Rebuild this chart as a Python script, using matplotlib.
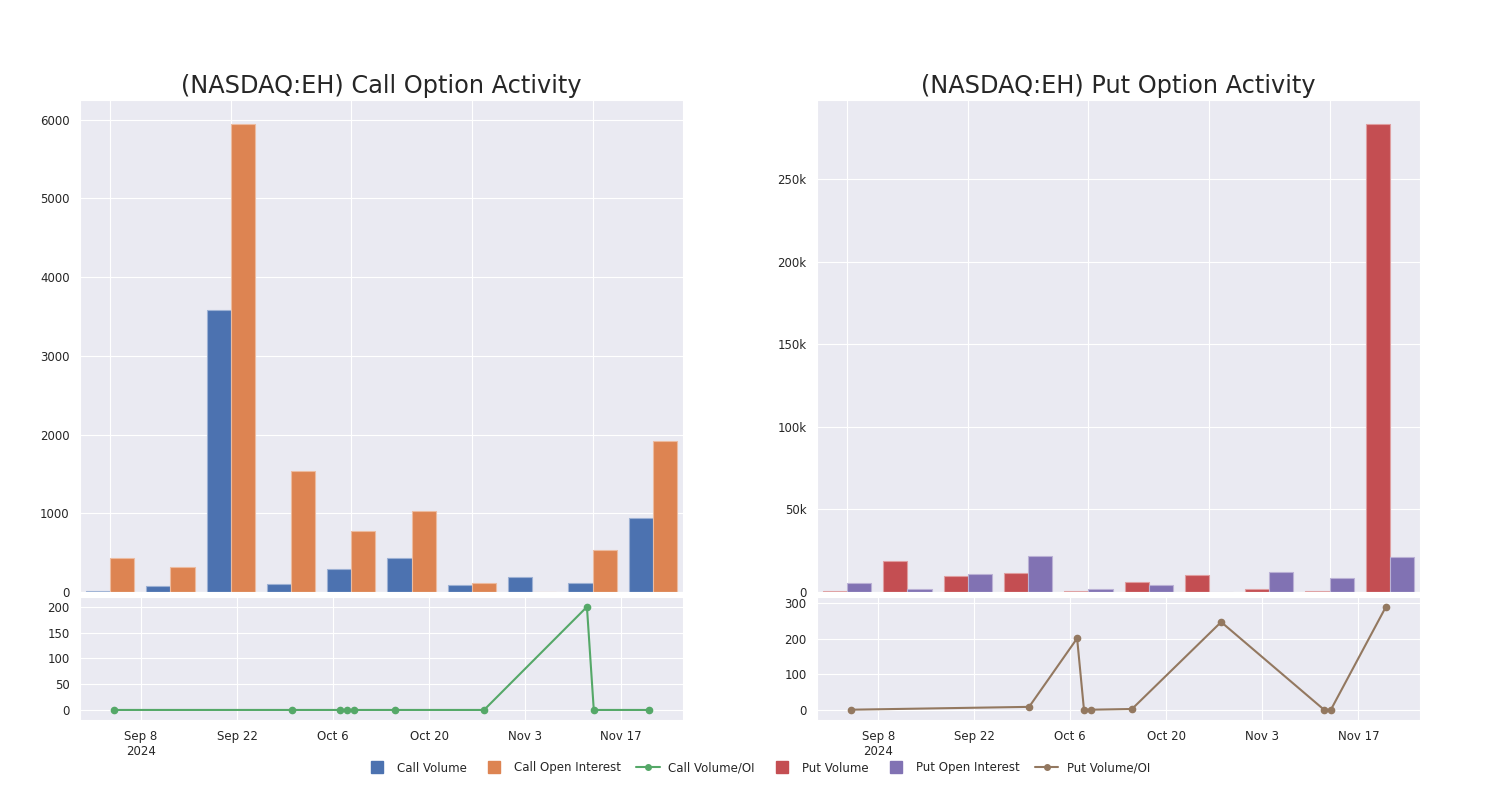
import numpy as np
import pandas as pd
import matplotlib
matplotlib.use("Agg")
import matplotlib.pyplot as plt
import matplotlib.colors as mcolors
from matplotlib.lines import Line2D
from matplotlib.ticker import FuncFormatter
import seaborn as sns

# bar groups (one per period)
call_volume = [10, 80, 3580, 100, 292, 436, 90, 192, 115, 935]
call_oi = [432, 316, 5950, 1535, 772, 1030, 115, 0, 530, 1920]
put_volume = [600, 18500, 9400, 11800, 800, 5900, 10000, 1600, 600, 283500]
put_oi = [5700, 1800, 11000, 21900, 1800, 4300, 200, 12100, 8700, 21100]

# volume / open interest ratio lines
ratio_dates = ["2024-09-04", "2024-09-30", "2024-10-07", "2024-10-08", "2024-10-09",
               "2024-10-15", "2024-10-28", "2024-11-12", "2024-11-13", "2024-11-21"]
call_ratio = [0, 0, 0, 0, 0, 0, 0, 200, 0, 0]
put_ratio = [0, 8, 201, 0, 0, 2, 247, 0, 0, 289]

tick_dates = ["2024-09-08", "2024-09-22", "2024-10-06", "2024-10-20", "2024-11-03", "2024-11-17"]
tick_labels = ["Sep 8\n2024", "Sep 22", "Oct 6", "Oct 20", "Nov 3", "Nov 17"]

sns.set_style("darkgrid")
plt.rcParams['font.family'] = ['DejaVu Sans']
plt.rcParams['text.color'] = '#262626'
plt.rcParams['xtick.color'] = '#262626'
plt.rcParams['ytick.color'] = '#262626'

blue, orange, green, red, purple, brown = '#4C72B0', '#DD8452', '#55A868', '#C44E52', '#8172B3', '#937860'

dates = pd.to_datetime(ratio_dates)
ticks = pd.to_datetime(tick_dates)
xlim = (pd.Timestamp("2024-08-30 02:00"), pd.Timestamp("2024-11-26"))

fig = plt.figure(figsize=(15, 8), dpi=100)


def lighter(c, amt=0.45):
    r, g, b = mcolors.to_rgb(c)
    return (r + (1 - r) * amt, g + (1 - g) * amt, b + (1 - b) * amt)


def panel(left, vol, oi, ratio, c1, c2, c3, title, ylim_bar, ylim_line, kfmt):
    ax = fig.add_axes([left, 0.26, 0.402, 0.615])
    x = np.arange(len(vol))
    w = 0.4
    ax.bar(x - w / 2, vol, w, color=c1, edgecolor=lighter(c1), linewidth=0.8)
    ax.bar(x + w / 2, oi, w, color=c2, edgecolor=lighter(c2), linewidth=0.8)
    ax.set_xlim(-0.5, len(vol) - 0.5)
    ax.set_ylim(*ylim_bar)
    ax.set_xticks([0, 2, 4, 6, 8])
    ax.set_xticklabels([])
    ax.tick_params(axis='y', labelsize=8.5, pad=4)
    ax.tick_params(axis='x', length=0)
    if kfmt:
        ax.yaxis.set_major_formatter(FuncFormatter(lambda v, p: "0" if v == 0 else f"{int(v / 1000)}k"))
    ax.set_title(title, fontsize=17.3, pad=5)

    ax2 = fig.add_axes([left, 0.1, 0.402, 0.154])
    ax2.plot(dates, ratio, color=c3, marker='o', markersize=4.5, linewidth=1.5)
    ax2.set_xlim(*xlim)
    ax2.set_ylim(*ylim_line)
    ax2.set_xticks(ticks)
    ax2.set_xticklabels(tick_labels)
    ax2.tick_params(labelsize=8.5, pad=4)
    return ax, ax2


panel(0.0533, call_volume, call_oi, call_ratio, blue, orange, green,
      "(NASDAQ:EH) Call Option Activity", (0, 6250), (-19.5, 219.5), False)
panel(0.5447, put_volume, put_oi, put_ratio, red, purple, brown,
      "(NASDAQ:EH) Put Option Activity", (0, 298000), (-29, 318), True)

handles = [
    Line2D([], [], color=blue, marker='s', linestyle='none', markersize=8),
    Line2D([], [], color=orange, marker='s', linestyle='none', markersize=8),
    Line2D([], [], color=green, marker='o', markersize=4, linewidth=1.5),
    Line2D([], [], color=red, marker='s', linestyle='none', markersize=8),
    Line2D([], [], color=purple, marker='s', linestyle='none', markersize=8),
    Line2D([], [], color=brown, marker='o', markersize=4, linewidth=1.5),
]
labels = ["Call Volume", "Call Open Interest", "Call Volume/OI",
          "Put Volume", "Put Open Interest", "Put Volume/OI"]
fig.legend(handles, labels, loc='center', bbox_to_anchor=(0.505, 0.04), ncol=6,
           frameon=False, fontsize=8.5, columnspacing=1.3, handletextpad=0.7)

fig.savefig("out.png", dpi=100)
